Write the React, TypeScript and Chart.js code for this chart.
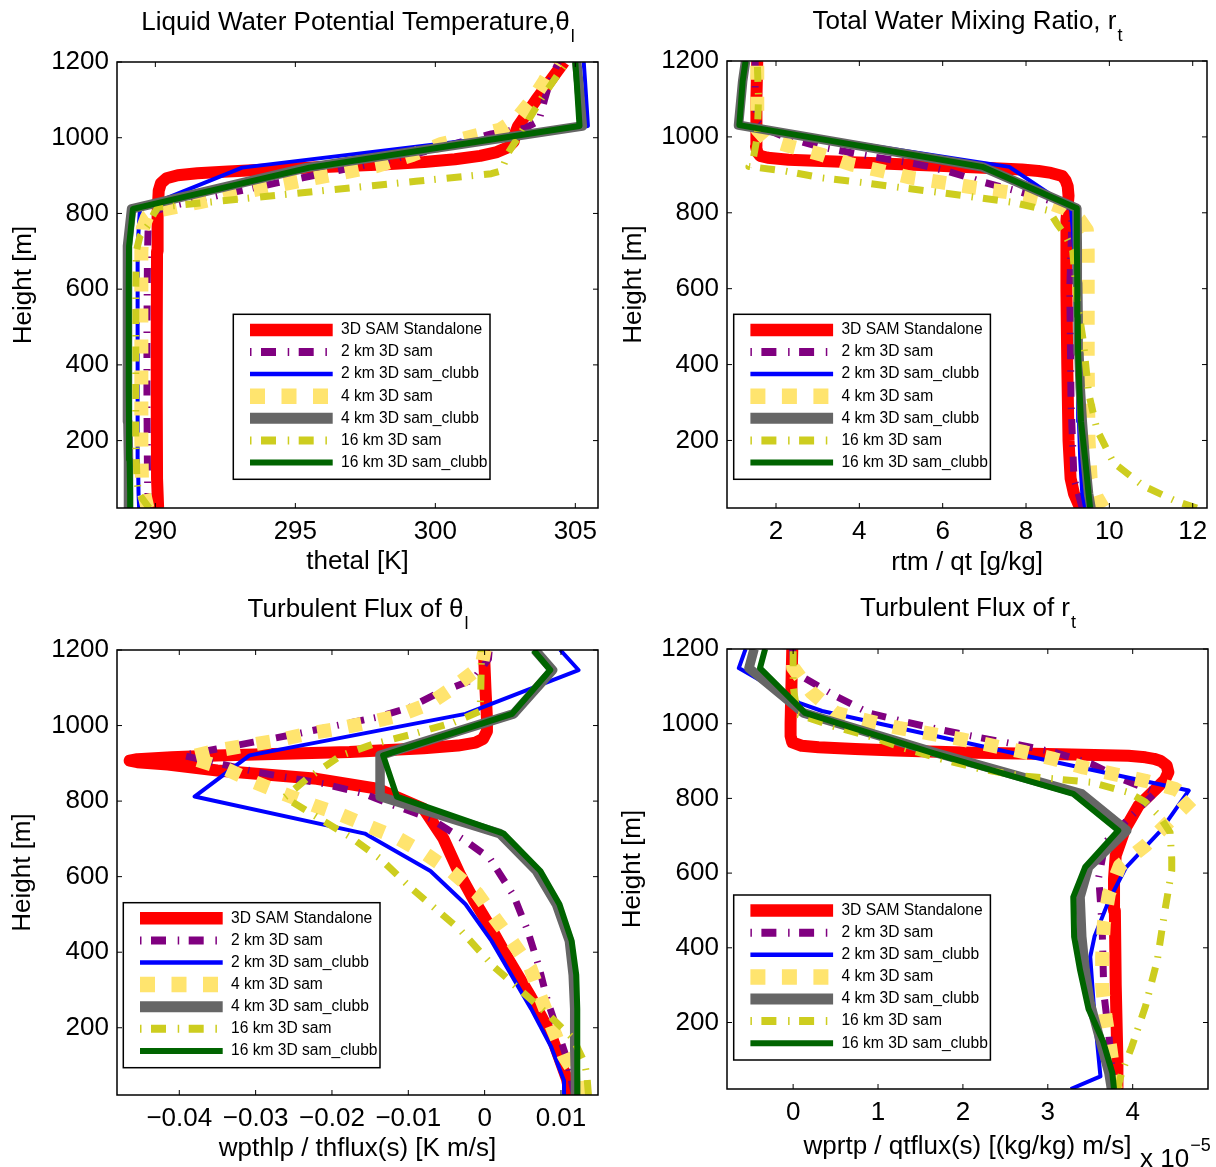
import React, { useEffect, useRef } from 'react';
import { Chart, registerables } from 'chart.js';

Chart.register(...registerables);

const FONT_FAMILY = "'Liberation Sans', Arial, Helvetica, sans-serif";
const TEXT_SIZE = 26;
Chart.defaults.font.family = FONT_FAMILY;
Chart.defaults.color = '#000';

// Each profile is a list of [height (m), value] pairs, bottom to top.
type Profile = [number, number][];

const seriesLabels = [
  '3D SAM Standalone',
  '2 km 3D sam',
  '2 km 3D sam_clubb',
  '4 km 3D sam',
  '4 km 3D sam_clubb',
  '16 km 3D sam',
  '16 km 3D sam_clubb',
];

const heightTicks = [200, 400, 600, 800, 1000, 1200];
const heightRange: [number, number] = [22, 1200];

// ---------- Liquid water potential temperature, thetal [K] ----------
const thlTicks = [290, 295, 300, 305];
const thlSamStandalone: Profile = [
  [22, 290.1], [100, 290.06], [300, 290.05], [500, 290.05], [700, 290.06], [800, 290.08],
  [860, 290.12], [880, 290.2], [893, 290.4], [901, 290.8], [906, 291.5], [911, 292.6],
  [916, 294.0], [922, 295.8], [929, 298.1], [936, 299.6], [943, 300.7], [952, 301.6],
  [962, 302.2], [975, 302.6], [990, 302.8], [1010, 302.85], [1030, 302.95], [1100, 303.6],
  [1200, 304.6],
];
const thlSam2km: Profile = [
  [22, 289.75], [100, 289.72], [300, 289.7], [500, 289.7], [700, 289.72], [780, 289.75],
  [805, 289.9], [820, 290.6], [850, 292.4], [880, 294.3], [910, 296.3], [940, 298.3],
  [970, 300.0], [995, 301.2], [1010, 302.0], [1025, 303.2], [1045, 303.7], [1100, 303.9],
  [1150, 304.1], [1200, 304.4],
];
const thlClubb2km: Profile = [
  [22, 289.42], [60, 289.4], [150, 289.38], [250, 289.37], [340, 289.36], [430, 289.36],
  [527, 289.36], [615, 289.37], [714, 289.38], [812, 289.45], [921, 293.1], [1031, 305.45],
  [1147, 305.35], [1200, 305.3],
];
const thlSam4km: Profile = [
  [22, 289.72], [60, 289.6], [100, 289.52], [200, 289.5], [400, 289.5], [600, 289.5],
  [700, 289.5], [760, 289.55], [790, 289.7], [806, 290.0], [830, 291.6], [863, 293.6],
  [894, 295.75], [925, 297.9], [955, 299.2], [983, 300.2], [1005, 301.4], [1021, 302.3],
  [1050, 302.9], [1104, 303.5], [1150, 303.9], [1200, 304.3],
];
const thlClubb4km: Profile = [
  [22, 289.05], [60, 289.05], [150, 289.03], [250, 289.02], [340, 289.0], [430, 289.0],
  [527, 289.0], [615, 289.0], [714, 289.02], [812, 289.15], [921, 295.4], [1031, 305.25],
  [1147, 305.12], [1200, 305.05],
];
const thlSam16km: Profile = [
  [22, 289.78], [60, 289.4], [100, 289.34], [200, 289.3], [400, 289.3], [600, 289.3],
  [700, 289.32], [740, 289.45], [770, 289.75], [800, 289.95], [816, 290.1], [850, 294.6],
  [885, 299.3], [905, 302.0], [911, 302.3], [930, 302.45], [960, 302.6], [1000, 302.95],
  [1105, 303.8], [1180, 304.5], [1200, 304.7],
];
const thlClubb16km: Profile = [
  [22, 289.1], [60, 289.1], [150, 289.08], [250, 289.06], [340, 289.05], [430, 289.05],
  [527, 289.05], [615, 289.05], [714, 289.06], [812, 289.2], [921, 295.5], [1031, 305.15],
  [1147, 305.05], [1200, 305.0],
];

// ---------- Total water mixing ratio, rtm [g/kg] ----------
const rtTicks = [2, 4, 6, 8, 10, 12];
const rtSamStandalone: Profile = [
  [22, 9.3], [60, 9.15], [100, 9.07], [200, 9.02], [400, 8.99], [600, 8.97], [780, 8.97],
  [845, 9.02], [870, 9.0], [885, 8.95], [897, 8.87], [905, 8.6], [910, 8.3], [914, 7.9],
  [918, 7.1], [924, 5.9], [929, 4.7], [935, 3.4], [940, 2.3], [945, 1.8], [950, 1.62],
  [960, 1.55], [975, 1.52], [1000, 1.52], [1100, 1.54], [1200, 1.55],
];
const rtSam2km: Profile = [
  [22, 9.35], [100, 9.15], [300, 9.08], [600, 9.05], [780, 9.1], [815, 9.05], [828, 8.7],
  [854, 7.9], [880, 7.0], [910, 6.1], [930, 5.3], [948, 4.3], [975, 3.0], [1000, 2.2],
  [1021, 1.74], [1040, 1.55], [1100, 1.5], [1200, 1.5],
];
const rtClubb2km: Profile = [
  [22, 9.42], [60, 9.35], [150, 9.3], [250, 9.27], [340, 9.25], [430, 9.23], [527, 9.2],
  [615, 9.18], [714, 9.15], [812, 9.08], [921, 7.6], [1031, 1.1], [1147, 1.2], [1200, 1.28],
];
const rtSam4km: Profile = [
  [22, 9.85], [50, 9.7], [100, 9.55], [200, 9.5], [400, 9.48], [600, 9.48], [700, 9.48],
  [754, 9.46], [780, 9.3], [811, 8.94], [836, 8.3], [854, 7.58], [866, 6.78], [880, 5.98],
  [892, 5.26], [910, 4.54], [927, 3.82], [953, 3.1], [974, 2.38], [995, 1.75], [1020, 1.55],
  [1100, 1.55], [1200, 1.55],
];
const rtClubb4km: Profile = [
  [22, 9.56], [60, 9.5], [150, 9.42], [250, 9.35], [340, 9.3], [430, 9.27], [527, 9.25],
  [615, 9.24], [714, 9.23], [812, 9.22], [921, 6.95], [1031, 1.1], [1147, 1.2], [1200, 1.27],
];
const rtSam16km: Profile = [
  [22, 12.1], [40, 11.6], [80, 10.82], [141, 10.1], [229, 9.7], [326, 9.5], [458, 9.38],
  [572, 9.22], [700, 9.12], [740, 8.95], [770, 8.75], [797, 8.6], [806, 8.54], [828, 7.66],
  [841, 6.78], [854, 5.9], [866, 5.02], [880, 4.06], [892, 3.1], [910, 2.22], [922, 1.35],
  [940, 1.45], [1000, 1.55], [1100, 1.58], [1200, 1.55],
];
const rtClubb16km: Profile = [
  [22, 9.54], [60, 9.5], [150, 9.42], [250, 9.32], [340, 9.28], [430, 9.25], [527, 9.24],
  [615, 9.23], [714, 9.22], [812, 9.22], [921, 6.95], [1031, 1.12], [1147, 1.2], [1200, 1.27],
];

// ---------- Turbulent flux of thetal, wpthlp [K m/s] ----------
const wpthlpTicks = [-0.04, -0.03, -0.02, -0.01, 0, 0.01];
const wpthlpSamStandalone: Profile = [
  [22, 0.0112], [63, 0.0108], [186, 0.0086], [283, 0.006], [371, 0.0034], [468, 0.0007],
  [538, -0.0014], [604, -0.0032], [701, -0.0054], [780, -0.008], [807, -0.0111],
  [833, -0.0141], [859, -0.022], [881, -0.035], [897, -0.0415], [903, -0.0455],
  [907, -0.0465], [911, -0.0455], [916, -0.041], [921, -0.0351], [930, -0.0177],
  [940, -0.008], [947, -0.0035], [955, -0.0012], [965, -0.0002], [985, 0.0003],
  [1020, 0.0003], [1100, 0.0001], [1200, -0.0001],
];
const wpthlpSam2km: Profile = [
  [22, 0.0118], [46, 0.0115], [116, 0.0108], [195, 0.0095], [274, 0.0082], [362, 0.0071],
  [459, 0.0056], [550, 0.0038], [648, 0.0007], [692, -0.0023], [754, -0.0071],
  [789, -0.0119], [820, -0.0159], [846, -0.0211], [877, -0.0299], [903, -0.0356],
  [921, -0.0395], [938, -0.0351], [956, -0.0303], [978, -0.0246], [1000, -0.0194],
  [1022, -0.0141], [1048, -0.0098], [1084, -0.0063], [1123, -0.0014], [1176, 0.0005],
  [1200, 0.0006],
];
const wpthlpClubb2km: Profile = [
  [22, 0.0104], [60, 0.0104], [150, 0.0087], [250, 0.0061], [340, 0.0035], [430, 0.0009],
  [527, -0.0025], [615, -0.0071], [714, -0.0157], [812, -0.038], [921, -0.0308],
  [1031, -0.0025], [1147, 0.0123], [1200, 0.0099],
];
const wpthlpSam4km: Profile = [
  [22, 0.0125], [63, 0.0123], [125, 0.0104], [204, 0.0088], [283, 0.0073], [358, 0.006],
  [428, 0.0036], [494, 0.0012], [556, -0.001], [613, -0.0043], [661, -0.0078],
  [701, -0.0113], [732, -0.015], [763, -0.0187], [789, -0.0224], [820, -0.0264],
  [850, -0.0301], [886, -0.034], [916, -0.0388], [934, -0.0351], [947, -0.0312],
  [960, -0.0273], [978, -0.0233], [991, -0.0194], [1009, -0.015], [1026, -0.0113],
  [1057, -0.0073], [1101, -0.0041], [1158, -0.0004], [1200, 0.0],
];
const wpthlpClubb4km: Profile = [
  [22, 0.0119], [60, 0.0119], [150, 0.0118], [250, 0.0118], [340, 0.0116], [430, 0.0111],
  [527, 0.0094], [615, 0.0068], [714, 0.002], [812, -0.0137], [921, -0.0137],
  [1031, 0.0038], [1147, 0.0089], [1200, 0.0066],
];
const wpthlpSam16km: Profile = [
  [22, 0.0136], [72, 0.0134], [107, 0.0131], [171, 0.0116], [230, 0.0086], [301, 0.0046],
  [362, 0.0012], [459, -0.0032], [573, -0.0098], [648, -0.0137], [705, -0.0176],
  [758, -0.022], [810, -0.0262], [859, -0.0233], [921, -0.0188], [950, -0.0147],
  [978, -0.0093], [1008, -0.0041], [1038, -0.0006], [1100, -0.0005], [1200, -0.0004],
];
const wpthlpClubb16km: Profile = [
  [22, 0.0122], [60, 0.0122], [150, 0.0121], [250, 0.0121], [340, 0.012], [430, 0.0114],
  [527, 0.0098], [615, 0.0073], [714, 0.0025], [812, -0.0115], [921, -0.0133],
  [1031, 0.0036], [1147, 0.0086], [1200, 0.0064],
];

// ---------- Turbulent flux of rt, wprtp, in units of 1e-5 (kg/kg) m/s ----------
const wprtpTicks = [0, 1, 2, 3, 4];
const wprtpSamStandalone: Profile = [
  [22, 3.82], [100, 3.82], [300, 3.8], [500, 3.79], [585, 3.78], [647, 3.8], [718, 3.91],
  [781, 4.07], [825, 4.27], [850, 4.38], [870, 4.42], [888, 4.4], [900, 4.33], [906, 4.25],
  [910, 4.15], [914, 3.95], [918, 3.15], [923, 2.0], [928, 1.2], [932, 0.73], [937, 0.3],
  [941, 0.1], [950, -0.01], [967, -0.03], [1000, -0.03], [1100, -0.02], [1200, -0.01],
];
const wprtpSam2km: Profile = [
  [22, 3.78], [65, 3.76], [163, 3.72], [279, 3.66], [456, 3.64], [589, 3.6], [683, 3.68],
  [754, 3.99], [816, 4.27], [852, 3.87], [892, 3.52], [923, 3.09], [945, 2.62], [963, 2.19],
  [985, 1.71], [1007, 1.28], [1029, 0.89], [1074, 0.5], [1127, 0.1], [1170, 0.0], [1200, -0.01],
];
const wprtpClubb2km: Profile = [
  [22, 3.27], [56, 3.62], [150, 3.58], [250, 3.54], [376, 3.5], [430, 3.55], [527, 3.72],
  [615, 3.92], [714, 4.33], [821, 4.66], [921, 2.6], [1034, 0.34], [1056, 0.07],
  [1149, -0.64], [1200, -0.56],
];
const wprtpSam4km: Profile = [
  [22, 3.8], [56, 3.78], [127, 3.74], [216, 3.68], [296, 3.64], [376, 3.64], [465, 3.66],
  [545, 3.72], [620, 3.85], [674, 4.15], [736, 4.42], [798, 4.7], [825, 4.5], [847, 4.15],
  [865, 3.78], [883, 3.42], [905, 3.08], [923, 2.74], [958, 1.99], [989, 1.24], [1007, 0.89],
  [1029, 0.5], [1083, 0.22], [1150, 0.0], [1200, 0.0],
];
const wprtpClubb4km: Profile = [
  [22, 3.75], [65, 3.72], [150, 3.62], [250, 3.5], [340, 3.44], [430, 3.4], [536, 3.38],
  [616, 3.48], [714, 3.93], [812, 3.4], [921, 1.7], [1029, 0.12], [1149, -0.52], [1200, -0.46],
];
const wprtpSam16km: Profile = [
  [22, 3.82], [65, 3.87], [136, 3.99], [243, 4.15], [367, 4.29], [501, 4.38], [607, 4.46],
  [638, 4.46], [709, 4.44], [754, 4.31], [790, 4.15], [816, 3.95], [843, 3.52], [861, 2.66],
  [878, 2.22], [905, 1.75], [935, 1.3], [967, 0.89], [994, 0.46], [1025, 0.05], [1100, 0.0],
  [1200, 0.0],
];
const wprtpClubb16km: Profile = [
  [22, 3.78], [65, 3.76], [150, 3.65], [236, 3.48], [340, 3.38], [430, 3.31], [536, 3.3],
  [616, 3.44], [714, 3.83], [812, 3.3], [921, 1.65], [1029, 0.14], [1149, -0.39], [1200, -0.33],
];

// ---------- line styles, in series order ----------
interface LineStyle {
  color: string;
  width: number;
  dash: number[];
  legendWidth: number;
  legendDash: number[];
}
const lineStyles: LineStyle[] = [
  { color: '#ff0000', width: 12, dash: [], legendWidth: 12.5, legendDash: [] },
  { color: '#800080', width: 7, dash: [15, 10, 1.5, 11], legendWidth: 8, legendDash: [1.5, 9.5, 15, 11.7] },
  { color: '#0000ff', width: 4, dash: [], legendWidth: 4.5, legendDash: [] },
  { color: '#ffe46e', width: 14, dash: [14, 17], legendWidth: 15.5, legendDash: [15, 16.5] },
  { color: '#666666', width: 9.5, dash: [], legendWidth: 11, legendDash: [] },
  { color: '#cdcd1f', width: 7, dash: [15, 10, 1.5, 11], legendWidth: 8, legendDash: [1.5, 9.5, 15, 11.7] },
  { color: '#006400', width: 6, dash: [], legendWidth: 6, legendDash: [] },
];

interface PanelSpec {
  id: string;
  box: { left: number; top: number; width: number; height: number };
  area: { left: number; top: number; right: number; bottom: number };
  profiles: Profile[];
  xRange: [number, number];
  xTicks: number[];
  title: string;
  titleSub: string;
  titleBaseline: number;
  xLabel: string;
  xLabelPad: number;
  yLabelPad: number;
  legendOffset: [number, number];
  multiplier?: { base: string; exp: string; x: number; baseline: number; expBaseline: number };
}

const panels: PanelSpec[] = [
  {
    id: 'thl',
    box: { left: 0, top: 0, width: 608, height: 580 },
    area: { left: 117, top: 62, right: 598, bottom: 508 },
    profiles: [thlSamStandalone, thlSam2km, thlClubb2km, thlSam4km, thlClubb4km, thlSam16km, thlClubb16km],
    xRange: [288.63, 305.81],
    xTicks: thlTicks,
    title: 'Liquid Water Potential Temperature,\u03b8',
    titleSub: 'l',
    titleBaseline: 30,
    xLabel: 'thetal [K]',
    xLabelPad: 2.8,
    yLabelPad: 8,
    legendOffset: [116.3, 252.3],
  },
  {
    id: 'rt',
    box: { left: 608, top: 0, width: 608, height: 580 },
    area: { left: 119, top: 61, right: 599, bottom: 508 },
    profiles: [rtSamStandalone, rtSam2km, rtClubb2km, rtSam4km, rtClubb4km, rtSam16km, rtClubb16km],
    xRange: [0.824, 12.343],
    xTicks: rtTicks,
    title: 'Total Water Mixing Ratio, r',
    titleSub: 't',
    titleBaseline: 29,
    xLabel: 'rtm / qt [g/kg]',
    xLabelPad: 2,
    yLabelPad: 10,
    legendOffset: [6.7, 253.3],
  },
  {
    id: 'wpthlp',
    box: { left: 0, top: 580, width: 608, height: 587 },
    area: { left: 117, top: 70, right: 598, bottom: 515 },
    profiles: [wpthlpSamStandalone, wpthlpSam2km, wpthlpClubb2km, wpthlpSam4km, wpthlpClubb4km, wpthlpSam16km, wpthlpClubb16km],
    xRange: [-0.04816, 0.01485],
    xTicks: wpthlpTicks,
    title: 'Turbulent Flux of \u03b8',
    titleSub: 'l',
    titleBaseline: 37,
    xLabel: 'wpthlp / thflux(s) [K m/s]',
    xLabelPad: 2.7,
    yLabelPad: 7,
    legendOffset: [6.3, 252.7],
  },
  {
    id: 'wprtp',
    box: { left: 608, top: 580, width: 608, height: 587 },
    area: { left: 119, top: 69, right: 600, bottom: 509 },
    profiles: [wprtpSamStandalone, wprtpSam2km, wprtpClubb2km, wprtpSam4km, wprtpClubb4km, wprtpSam16km, wprtpClubb16km],
    xRange: [-0.779, 4.887],
    xTicks: wprtpTicks,
    title: 'Turbulent Flux of r',
    titleSub: 't',
    titleBaseline: 36,
    xLabel: 'wprtp / qtflux(s) [(kg/kg) m/s]',
    xLabelPad: 4.7,
    yLabelPad: 9,
    legendOffset: [6.7, 246],
    multiplier: { base: 'x 10', exp: '\u22125', x: 532, baseline: 587, expBaseline: 571 },
  },
];

const formatTick = (v: number) => (v < 0 ? '\u2212' : '') + String(Math.abs(v));

const LEGEND_W = 256.7;
const LEGEND_H = 165;

// Axes box with inward ticks, panel title, in-axes legend and exponent note.
function makeDecor(spec: PanelSpec) {
  return {
    id: 'panelDecor',
    afterDraw(chart: Chart) {
      const { ctx, chartArea: a } = chart;
      const xs = chart.scales.x;
      const ys = chart.scales.y;
      ctx.save();

      ctx.strokeStyle = '#000';
      ctx.lineWidth = 1;
      ctx.setLineDash([]);
      ctx.beginPath();
      for (const v of spec.xTicks) {
        const p = xs.getPixelForValue(v);
        ctx.moveTo(p, a.bottom);
        ctx.lineTo(p, a.bottom - 5);
        ctx.moveTo(p, a.top);
        ctx.lineTo(p, a.top + 5);
      }
      for (const v of heightTicks) {
        const p = ys.getPixelForValue(v);
        ctx.moveTo(a.left, p);
        ctx.lineTo(a.left + 5, p);
        ctx.moveTo(a.right, p);
        ctx.lineTo(a.right - 5, p);
      }
      ctx.stroke();
      ctx.lineWidth = 1.5;
      ctx.strokeRect(a.left, a.top, a.right - a.left, a.bottom - a.top);

      // legend
      const bx = a.left + spec.legendOffset[0];
      const by = a.top + spec.legendOffset[1];
      ctx.fillStyle = '#fff';
      ctx.fillRect(bx, by, LEGEND_W, LEGEND_H);
      ctx.strokeStyle = '#000';
      ctx.lineWidth = 1.5;
      ctx.strokeRect(bx, by, LEGEND_W, LEGEND_H);
      seriesLabels.forEach((label, i) => {
        const st = lineStyles[i];
        const cy = by + 15.6 + i * 22.1;
        ctx.save();
        ctx.strokeStyle = st.color;
        ctx.lineWidth = st.legendWidth;
        ctx.lineCap = 'butt';
        ctx.setLineDash(st.legendDash);
        ctx.beginPath();
        ctx.moveTo(bx + 16.7, cy);
        ctx.lineTo(bx + 99.4, cy);
        ctx.stroke();
        ctx.restore();
        ctx.fillStyle = '#000';
        ctx.font = `15.6px ${FONT_FAMILY}`;
        ctx.textAlign = 'left';
        ctx.textBaseline = 'middle';
        ctx.fillText(label, bx + 107.7, cy);
      });

      // title with subscript
      ctx.fillStyle = '#000';
      ctx.textAlign = 'left';
      ctx.textBaseline = 'alphabetic';
      ctx.font = `${TEXT_SIZE}px ${FONT_FAMILY}`;
      const mw = ctx.measureText(spec.title).width;
      ctx.font = `18px ${FONT_FAMILY}`;
      const sw = ctx.measureText(spec.titleSub).width;
      const x0 = (a.left + a.right) / 2 - (mw + sw) / 2;
      ctx.font = `${TEXT_SIZE}px ${FONT_FAMILY}`;
      ctx.fillText(spec.title, x0, spec.titleBaseline);
      ctx.font = `18px ${FONT_FAMILY}`;
      ctx.fillText(spec.titleSub, x0 + mw + 1, spec.titleBaseline + 12);

      if (spec.multiplier) {
        const m = spec.multiplier;
        ctx.font = `${TEXT_SIZE}px ${FONT_FAMILY}`;
        const bw = ctx.measureText(m.base).width;
        ctx.fillText(m.base, m.x, m.baseline);
        ctx.font = `18px ${FONT_FAMILY}`;
        ctx.fillText(m.exp, m.x + bw + 1, m.expBaseline);
      }
      ctx.restore();
    },
  };
}

function ProfilePanel({ spec }: { spec: PanelSpec }) {
  const ref = useRef<HTMLCanvasElement>(null);

  useEffect(() => {
    const canvas = ref.current;
    if (!canvas) return;
    const { box, area } = spec;
    const chart = new Chart(canvas, {
      type: 'scatter',
      data: {
        datasets: spec.profiles.map((prof, i) => ({
          label: seriesLabels[i],
          data: prof.map(([z, v]) => ({ x: v, y: z })),
          showLine: true,
          borderColor: lineStyles[i].color,
          backgroundColor: lineStyles[i].color,
          borderWidth: lineStyles[i].width,
          borderDash: lineStyles[i].dash,
          borderCapStyle: 'butt',
          borderJoinStyle: 'round',
          pointRadius: 0,
          pointHoverRadius: 0,
          tension: 0,
          clip: 0,
          order: seriesLabels.length - 1 - i,
        })),
      },
      options: {
        animation: false,
        responsive: false,
        devicePixelRatio: 1,
        events: [],
        layout: {
          padding: { left: 0, top: area.top, right: box.width - area.right, bottom: 0 },
        },
        plugins: {
          legend: { display: false },
          tooltip: { enabled: false },
          title: { display: false },
        },
        scales: {
          x: {
            type: 'linear',
            position: 'bottom',
            min: spec.xRange[0],
            max: spec.xRange[1],
            afterBuildTicks: (axis: any) => {
              axis.ticks = spec.xTicks.map((value) => ({ value }));
            },
            afterFit: (s: any) => {
              s.height = box.height - area.bottom;
            },
            grid: { display: false, drawTicks: false },
            border: { display: false },
            ticks: {
              padding: 8.5,
              autoSkip: false,
              maxRotation: 0,
              color: '#000',
              font: { size: TEXT_SIZE },
              callback: (v: any) => formatTick(Number(v)),
            },
            title: {
              display: true,
              text: spec.xLabel,
              color: '#000',
              font: { size: TEXT_SIZE },
              padding: { top: 0, bottom: spec.xLabelPad },
            },
          },
          y: {
            type: 'linear',
            position: 'left',
            min: heightRange[0],
            max: heightRange[1],
            afterBuildTicks: (axis: any) => {
              axis.ticks = heightTicks.map((value) => ({ value }));
            },
            afterFit: (s: any) => {
              s.width = area.left;
            },
            grid: { display: false, drawTicks: false },
            border: { display: false },
            ticks: {
              padding: 8,
              autoSkip: false,
              color: '#000',
              font: { size: TEXT_SIZE },
              callback: (v: any) => formatTick(Number(v)),
            },
            title: {
              display: true,
              text: 'Height [m]',
              color: '#000',
              font: { size: TEXT_SIZE },
              padding: { top: spec.yLabelPad, bottom: 0 },
            },
          },
        },
      } as any,
      plugins: [makeDecor(spec)],
    });
    return () => chart.destroy();
  }, [spec]);

  return (
    <canvas
      ref={ref}
      width={spec.box.width}
      height={spec.box.height}
      style={{
        position: 'absolute',
        left: spec.box.left,
        top: spec.box.top,
        width: spec.box.width,
        height: spec.box.height,
        display: 'block',
      }}
    />
  );
}

export default function App() {
  return (
    <div style={{ position: 'absolute', left: 0, top: 0, width: 1216, height: 1167, background: '#fff' }}>
      {panels.map((p) => (
        <ProfilePanel key={p.id} spec={p} />
      ))}
    </div>
  );
}
